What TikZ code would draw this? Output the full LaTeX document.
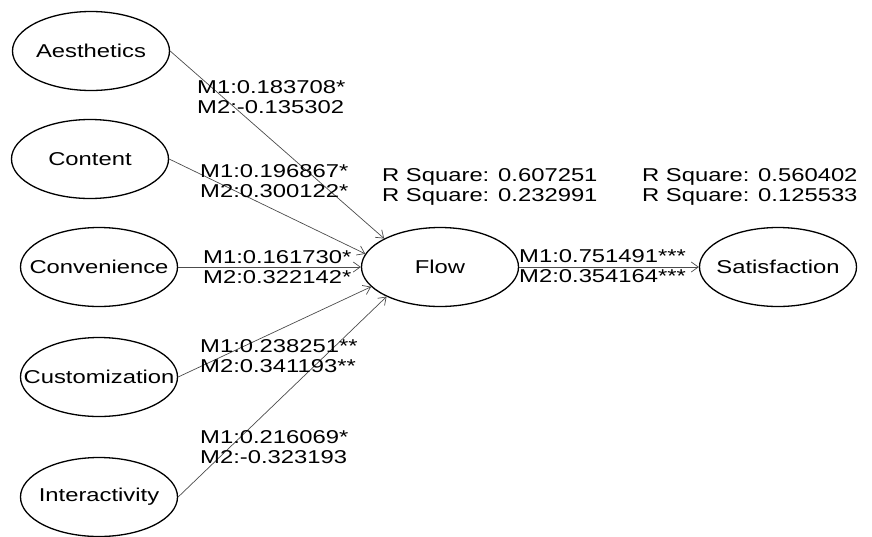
\documentclass[tikz,border=0pt]{standalone}
\usepackage{fontspec}
\setmainfont{Liberation Sans}[FakeStretch=1.28]
\usetikzlibrary{shapes.geometric,arrows.meta}
\begin{document}
\begin{tikzpicture}[x=1pt,y=-1pt,
  var/.style={draw=black,line width=1.3pt,ellipse,inner sep=0pt,minimum width=157pt,minimum height=79pt},
  path/.style={draw=black!70,line width=0.7pt,-{Straight Barb[length=7pt,width=10pt]}},
  lab/.style={inner sep=0pt,anchor=west,align=left},
  every node/.style={font=\fontsize{18.6}{20}\selectfont}]
\useasboundingbox (0,0) rectangle (872,536);
\node[var] (aes) at (91,51) {\makebox[0pt]{Aesthetics}};
\node[var] (con) at (90,159) {\makebox[0pt]{Content}};
\node[var] (conv) at (99,267) {\makebox[0pt]{Convenience}};
\node[var] (cust) at (99,377) {\makebox[0pt]{Customization}};
\node[var] (inter) at (99,497) {\makebox[0pt]{Interactivity}};
\node[var] (flow) at (440,267) {\makebox[0pt]{Flow}};
\node[var] (sat) at (778,267) {\makebox[0pt]{Satisfaction}};
\draw[path] (aes.east) -- (flow.153);
\draw[path] (con.east) -- (flow.170);
\draw[path] (conv.east) -- (flow.west);
\draw[path] (cust.east) -- (flow.196);
\draw[path] (inter.east) -- (flow.209);
\draw[path] (flow.east) -- (sat.west);
\node[lab] (aesL) at (197,97) {M1:0.183708*\\M2:-0.135302};
\node[lab] (conL) at (200,181) {M1:0.196867*\\M2:0.300122*};
\node[lab] (convL) at (203,267) {M1:0.161730*\\M2:0.322142*};
\node[lab] (custL) at (200,356) {M1:0.238251**\\M2:0.341193**};
\node[lab] (intL) at (200,447) {M1:0.216069*\\M2:-0.323193};
\node[lab] (rs1) at (382,187) {R Square: 0.607251\\R Square: 0.232991};
\node[lab] (rs2) at (642,187) {R Square: 0.560402\\R Square: 0.125533};
\node[lab] (fsL) at (519,266) {M1:0.751491***\\M2:0.354164***};
\end{tikzpicture}
\end{document}
